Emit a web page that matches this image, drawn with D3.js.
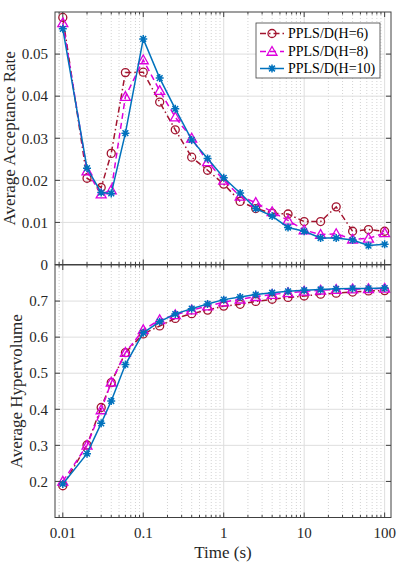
<!DOCTYPE html>
<html>
<head>
<meta charset="utf-8">
<script src="https://cdn.jsdelivr.net/npm/d3@7"></script>
<style>
  body { margin: 0; background: #fff; }
</style>
</head>
<body>
<div id="chart"></div>
<script>
// time steps on the shared log x axis
var times = [0.01, 0.02, 0.03, 0.04, 0.06, 0.1, 0.16, 0.25, 0.4, 0.63, 1, 1.6, 2.5, 4, 6.3, 10, 16, 25, 40, 63, 100];

// average acceptance rate (top panel)
var acc6 = [0.0587, 0.0205, 0.0183, 0.0264, 0.0456, 0.0457, 0.0386, 0.0320, 0.0255, 0.0224, 0.0191, 0.0150, 0.0133, 0.0122, 0.0120, 0.0102, 0.0102, 0.0137, 0.0079, 0.0083, 0.0079];
var acc8 = [0.0574, 0.0222, 0.0167, 0.0177, 0.0399, 0.0486, 0.0413, 0.0350, 0.0300, 0.0244, 0.0200, 0.0162, 0.0147, 0.0125, 0.0105, 0.0082, 0.0071, 0.0073, 0.0060, 0.0062, 0.0075];
var acc10 = [0.0560, 0.0229, 0.0171, 0.0169, 0.0312, 0.0536, 0.0443, 0.0370, 0.0296, 0.0252, 0.0206, 0.0170, 0.0133, 0.0115, 0.0088, 0.0079, 0.0063, 0.0063, 0.0058, 0.0045, 0.0048];

// average hypervolume (bottom panel)
var hv6 = [0.188, 0.301, 0.405, 0.474, 0.557, 0.609, 0.631, 0.652, 0.665, 0.675, 0.686, 0.691, 0.699, 0.705, 0.710, 0.714, 0.719, 0.722, 0.725, 0.728, 0.729];
var hv8 = [0.200, 0.300, 0.398, 0.475, 0.557, 0.620, 0.648, 0.662, 0.675, 0.686, 0.697, 0.705, 0.712, 0.718, 0.723, 0.727, 0.730, 0.732, 0.733, 0.734, 0.735];
var hv10 = [0.193, 0.277, 0.361, 0.423, 0.524, 0.612, 0.643, 0.664, 0.679, 0.692, 0.704, 0.711, 0.718, 0.723, 0.727, 0.730, 0.732, 0.734, 0.735, 0.735, 0.736];

var seriesNames = ["PPLS/D(H=6)", "PPLS/D(H=8)", "PPLS/D(H=10)"];
var xTickLabels = ["0.01", "0.1", "1", "10", "100"];
var accTicks = [0, 0.01, 0.02, 0.03, 0.04, 0.05];
var hvTicks = [0.2, 0.3, 0.4, 0.5, 0.6, 0.7];

var width = 399, height = 564;
var left = 55, right = 391;
var font = "'Times New Roman', 'Liberation Serif', Times, serif";

var styles = [
  { color: "#a2142f", dash: "6,3,1.5,3", marker: "circle" },
  { color: "#dd00dd", dash: "6,4", marker: "triangle" },
  { color: "#0072bd", dash: null, marker: "star" }
];

var svg = d3.select("#chart")
  .append("svg")
  .attr("width", width)
  .attr("height", height)
  .style("display", "block")
  .attr("font-family", font);

// shared log x scale
var x = d3.scaleLog().domain([0.008, 120]).range([left, right]);

var majorX = [0.01, 0.1, 1, 10, 100];
var minorX = [];
[0.001, 0.01, 0.1, 1, 10, 100].forEach(function(p) {
  for (var k = 2; k <= 9; k++) {
    var v = p * k;
    if (v > 0.008 && v < 120) minorX.push(v);
  }
});

function drawPanel(top, bottom, domain, yTicks, data, label, showX) {
  var y = d3.scaleLinear().domain(domain).range([bottom, top]);
  var g = svg.append("g");

  // minor dotted grid
  g.selectAll(".minor").data(minorX).enter().append("line")
    .attr("x1", d => x(d)).attr("x2", d => x(d))
    .attr("y1", top).attr("y2", bottom)
    .attr("stroke", "#c8c8c8")
    .attr("stroke-width", 0.8)
    .attr("stroke-dasharray", "1,2");

  // major grid
  g.selectAll(".majx").data(majorX).enter().append("line")
    .attr("x1", d => x(d)).attr("x2", d => x(d))
    .attr("y1", top).attr("y2", bottom)
    .attr("stroke", "#dedede").attr("stroke-width", 1);
  g.selectAll(".majy").data(yTicks).enter().append("line")
    .attr("x1", left).attr("x2", right)
    .attr("y1", d => y(d)).attr("y2", d => y(d))
    .attr("stroke", "#dedede").attr("stroke-width", 1);

  // series lines + markers
  data.forEach(function(vals, i) {
    var st = styles[i];
    var line = d3.line().x((d, j) => x(times[j])).y(d => y(d));
    g.append("path")
      .datum(vals)
      .attr("d", line)
      .attr("fill", "none")
      .attr("stroke", st.color)
      .attr("stroke-width", 1.5)
      .attr("stroke-dasharray", st.dash);
    vals.forEach(function(v, j) {
      drawMarker(g, st, x(times[j]), y(v));
    });
  });

  // box
  g.append("rect")
    .attr("x", left).attr("y", top)
    .attr("width", right - left).attr("height", bottom - top)
    .attr("fill", "none")
    .attr("stroke", "#404040")
    .attr("stroke-width", 1);

  // inward ticks on all sides
  majorX.forEach(function(t) {
    g.append("line").attr("x1", x(t)).attr("x2", x(t)).attr("y1", bottom).attr("y2", bottom - 5).attr("stroke", "#404040");
    g.append("line").attr("x1", x(t)).attr("x2", x(t)).attr("y1", top).attr("y2", top + 5).attr("stroke", "#404040");
  });
  minorX.forEach(function(t) {
    g.append("line").attr("x1", x(t)).attr("x2", x(t)).attr("y1", bottom).attr("y2", bottom - 2.5).attr("stroke", "#404040");
    g.append("line").attr("x1", x(t)).attr("x2", x(t)).attr("y1", top).attr("y2", top + 2.5).attr("stroke", "#404040");
  });
  yTicks.forEach(function(t) {
    g.append("line").attr("x1", left).attr("x2", left + 5).attr("y1", y(t)).attr("y2", y(t)).attr("stroke", "#404040");
    g.append("line").attr("x1", right).attr("x2", right - 5).attr("y1", y(t)).attr("y2", y(t)).attr("stroke", "#404040");
  });

  // y tick labels
  g.selectAll(".ylab").data(yTicks).enter().append("text")
    .attr("x", left - 7)
    .attr("y", d => y(d))
    .attr("dy", "0.35em")
    .attr("text-anchor", "end")
    .attr("font-family", font)
    .attr("font-size", 15)
    .attr("fill", "#262626")
    .text(d => d === 0 ? "0" : d3.format(".2~f")(d));

  // y axis title
  g.append("text")
    .attr("transform", "translate(" + (label.x) + "," + ((top + bottom) / 2) + ") rotate(-90)")
    .attr("text-anchor", "middle")
    .attr("font-family", font)
    .attr("font-size", 17)
    .attr("fill", "#262626")
    .text(label.text);

  if (showX) {
    g.selectAll(".xlab").data(majorX).enter().append("text")
      .attr("x", d => x(d))
      .attr("y", bottom + 20)
      .attr("text-anchor", "middle")
      .attr("font-family", font)
      .attr("font-size", 15)
      .attr("fill", "#262626")
      .text((d, i) => xTickLabels[i]);
  }
  return g;
}

function drawMarker(g, st, cx, cy) {
  if (st.marker === "circle") {
    g.append("circle").attr("cx", cx).attr("cy", cy).attr("r", 4)
      .attr("fill", "none").attr("stroke", st.color).attr("stroke-width", 1.3);
  } else if (st.marker === "triangle") {
    var s = 5;
    g.append("path")
      .attr("d", "M" + cx + "," + (cy - s) + "L" + (cx + s) + "," + (cy + s * 0.75) + "L" + (cx - s) + "," + (cy + s * 0.75) + "Z")
      .attr("fill", "none").attr("stroke", st.color).attr("stroke-width", 1.3);
  } else {
    var r = 4, d = r * 0.72;
    g.append("path")
      .attr("d", "M" + (cx - r) + "," + cy + "L" + (cx + r) + "," + cy +
        "M" + cx + "," + (cy - r) + "L" + cx + "," + (cy + r) +
        "M" + (cx - d) + "," + (cy - d) + "L" + (cx + d) + "," + (cy + d) +
        "M" + (cx - d) + "," + (cy + d) + "L" + (cx + d) + "," + (cy - d))
      .attr("stroke", st.color).attr("stroke-width", 1.5);
    g.append("circle").attr("cx", cx).attr("cy", cy).attr("r", 1.6).attr("fill", st.color);
  }
}

// top panel: acceptance rate
drawPanel(12, 264.5, [0, 0.06], accTicks, [acc6, acc8, acc10],
  { x: 15, text: "Average Acceptance Rate" }, false);

// bottom panel: hypervolume
drawPanel(265, 517.5, [0.1, 0.8], hvTicks, [hv6, hv8, hv10],
  { x: 22, text: "Average Hypervolume" }, true);

// x axis title
svg.append("text")
  .attr("x", (left + right) / 2)
  .attr("y", 558)
  .attr("text-anchor", "middle")
  .attr("font-family", font)
  .attr("font-size", 17)
  .attr("fill", "#262626")
  .text("Time (s)");

// legend
var lg = svg.append("g");
lg.append("rect")
  .attr("x", 256).attr("y", 23)
  .attr("width", 124).attr("height", 55)
  .attr("fill", "#fff")
  .attr("stroke", "#404040")
  .attr("stroke-width", 0.8);
var rowY = [33.5, 51.5, 68.5];
seriesNames.forEach(function(name, i) {
  var st = styles[i];
  lg.append("line")
    .attr("x1", 260).attr("x2", 284)
    .attr("y1", rowY[i]).attr("y2", rowY[i])
    .attr("stroke", st.color)
    .attr("stroke-width", 1.5)
    .attr("stroke-dasharray", st.dash);
  drawMarker(lg, st, 272, rowY[i]);
  lg.append("text")
    .attr("x", 288)
    .attr("y", rowY[i])
    .attr("dy", "0.35em")
    .attr("font-family", font)
    .attr("font-size", 14)
    .attr("fill", "#000")
    .text(name);
});
</script>
</body>
</html>
